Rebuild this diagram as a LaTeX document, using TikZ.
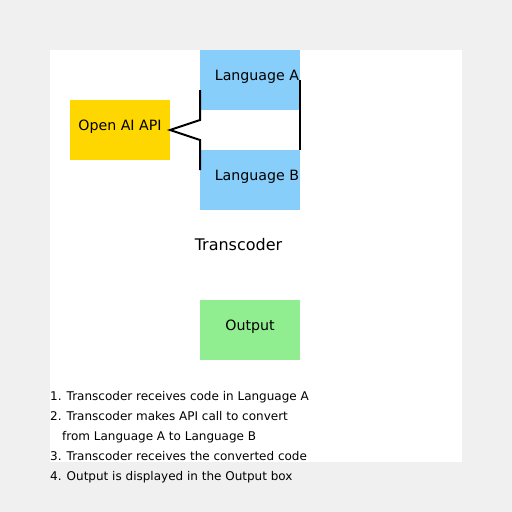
\documentclass[tikz,border=0pt]{standalone}
\usepackage{fontspec}
\setmainfont{DejaVu Sans}
\usetikzlibrary{positioning}
\definecolor{pagebg}{HTML}{F0F0F0}
\definecolor{langblue}{HTML}{87CEFA}
\definecolor{apigold}{HTML}{FFD700}
\definecolor{outgreen}{HTML}{90EE90}
\definecolor{ink}{HTML}{000000}

\tikzset{
  block/.style={minimum width=100pt,minimum height=60pt,inner sep=0pt,outer sep=0pt},
  boxtext/.style={font=\fontsize{14.2}{17}\selectfont,text=ink,inner sep=0pt,anchor=base},
  steptext/.style={font=\fontsize{12}{14}\selectfont,text=ink,inner sep=0pt,anchor=base west},
  wire/.style={draw=ink,line width=2pt}
}

\begin{document}
\begin{tikzpicture}[x=1pt,y=-1pt]
\fill[pagebg] (0,0) rectangle (512,512);
\useasboundingbox (0,0) rectangle (512,512);
\fill[white] (50,50) rectangle (462,462);

\node[block,fill=langblue] (langA) at (250,80) {};
\node[block,fill=apigold] (api) at (120,130) {};
\node[block,fill=langblue] (langB) at (250,180) {};
\node[block,fill=outgreen] (output) at (250,330) {};

\node[boxtext] at ([xshift=7pt]langA.center) {Language A};
\node[boxtext] at (api.center) {Open AI API};
\node[boxtext] at ([xshift=7pt]langB.center) {Language B};
\node[boxtext] at (output.center) {Output};
\node[boxtext,font=\fontsize{16}{19}\selectfont] (transcoder) at (238.5,250) {Transcoder};

% API call out and back
\coordinate (callA) at ([yshift=-10pt]langA.west);
\coordinate (callB) at ([yshift=10pt]langB.west);
\draw[wire,line join=miter] (callA) -- ([xshift=30pt,yshift=10pt]api.east) -- (api.east)
  -- ([xshift=30pt,yshift=-10pt]api.east) -- (callB);
\draw[wire] (langA.east) -- (langB.north east);

\node[steptext] (s1) at (50,400) {1. Transcoder receives code in Language A};
\node[steptext] (s2) at (50,420) {2. Transcoder makes API call to convert};
\node[steptext] (s2b) at (62,440) {from Language A to Language B};
\node[steptext] (s3) at (50,460) {3. Transcoder receives the converted code};
\node[steptext] (s4) at (50,480) {4. Output is displayed in the Output box};
\end{tikzpicture}
\end{document}
